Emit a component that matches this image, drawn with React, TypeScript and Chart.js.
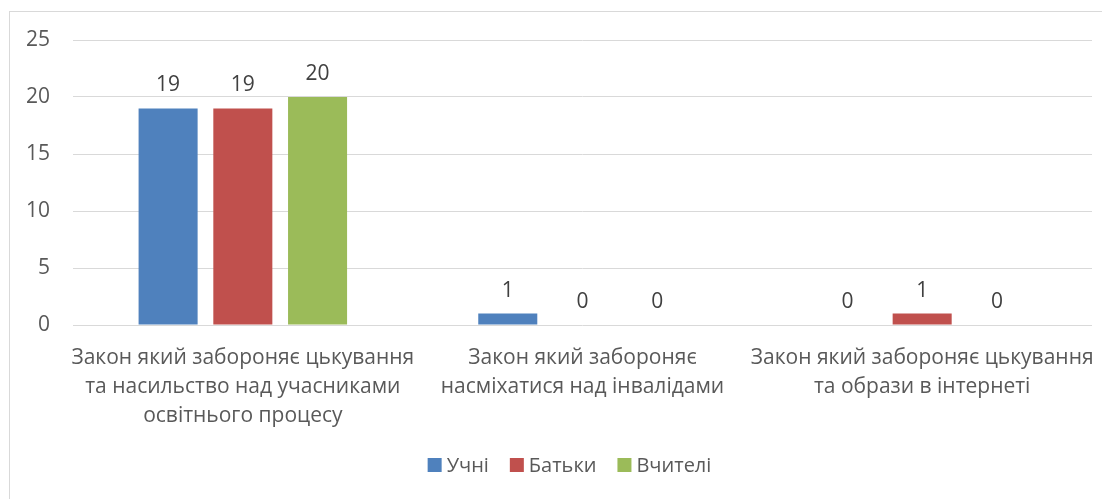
import React, { useEffect, useRef } from "react";
import { Chart, registerables } from "chart.js";

Chart.register(...registerables);

const categories: string[][] = [
  ["Закон який забороняє цькування", "та насильство над учасниками", "освітнього процесу"],
  ["Закон який забороняє", "насміхатися над інвалідами"],
  ["Закон який забороняє цькування", "та образи в інтернеті"],
];
const seriesNames = ["Учні", "Батьки", "Вчителі"];
const pupils = [19, 1, 0];
const parents = [19, 0, 1];
const teachers = [20, 0, 0];
const seriesColors = ["#4F81BD", "#C0504D", "#9BBB59"];
const yTicks = [0, 5, 10, 15, 20, 25];

const FONT = "'Open Sans', 'Noto Sans', sans-serif";
const FS = 21;

const dataLabels = {
  id: "dataLabels",
  afterDatasetsDraw(chart: any) {
    const ctx = chart.ctx;
    ctx.save();
    ctx.font = `${FS}px ${FONT}`;
    ctx.fillStyle = "#404040";
    ctx.textAlign = "center";
    ctx.textBaseline = "middle";
    chart.data.datasets.forEach((ds: any, i: number) => {
      const meta = chart.getDatasetMeta(i);
      meta.data.forEach((el: any, j: number) => {
        ctx.fillText(String(ds.data[j]), el.x, el.y - 23);
      });
    });
    ctx.restore();
  },
};

// custom legend drawn at the bottom, centred like the original
const bottomLegend = {
  id: "bottomLegend",
  afterDraw(chart: any) {
    const ctx = chart.ctx;
    ctx.save();
    ctx.font = `20px ${FONT}`;
    ctx.textBaseline = "middle";
    const box = 14;
    const gap = 5;
    const itemGap = 21;
    const items = chart.data.datasets.map((ds: any) => ({
      text: ds.label,
      color: ds.backgroundColor,
      w: box + gap + ctx.measureText(ds.label).width,
    }));
    const total = items.reduce((a: number, it: any) => a + it.w, 0) + itemGap * (items.length - 1);
    let x = 559.5 - total / 2;
    const y = 453;
    items.forEach((it: any) => {
      ctx.fillStyle = it.color;
      ctx.fillRect(x, y - box / 2, box, box);
      ctx.fillStyle = "#595959";
      ctx.textAlign = "left";
      ctx.fillText(it.text, x + box + gap, y + 1);
      x += it.w + itemGap;
    });
    ctx.restore();
  },
};

export default function App() {
  const ref = useRef<HTMLCanvasElement>(null);
  useEffect(() => {
    if (!ref.current) return;
    const chart = new Chart(ref.current, {
      type: "bar",
      data: {
        labels: categories,
        datasets: [pupils, parents, teachers].map((d, i) => ({
          label: seriesNames[i],
          data: d,
          backgroundColor: seriesColors[i],
          borderWidth: 0,
          barPercentage: 0.79,
          categoryPercentage: 0.66,
        })),
      },
      options: {
        animation: false,
        responsive: false,
        maintainAspectRatio: false,
        layout: { padding: { top: 28, right: 18, left: 0, bottom: 54 } },
        plugins: {
          tooltip: { enabled: false },
          legend: { display: false },
        },
        scales: {
          x: {
            grid: { display: false },
            border: { display: false },
            afterFit: (s: any) => {
              s.height = 120;
            },
            ticks: {
              color: "#595959",
              font: { family: FONT, size: FS, lineHeight: 1.4 },
              maxRotation: 0,
              autoSkip: false,
              padding: 10,
            },
          },
          y: {
            min: 0,
            max: 25,
            afterFit: (s: any) => {
              s.width = 63;
              s.paddingTop = 0;
              s.paddingBottom = 0;
            },
            afterBuildTicks: (s: any) => {
              s.ticks = yTicks.map((v) => ({ value: v }));
            },
            grid: { color: "#d9d9d9", lineWidth: 1, drawTicks: false },
            border: { display: false },
            ticks: {
              color: "#595959",
              font: { family: FONT, size: FS },
              padding: 23,
            },
          },
        },
      },
      plugins: [dataLabels, bottomLegend],
    });
    return () => chart.destroy();
  }, []);
  return (
    <div
      style={{
        marginLeft: 1,
        marginTop: 3,
        width: 1101,
        height: 488,
        borderTop: "1px solid #d9d9d9",
        borderLeft: "1px solid #d9d9d9",
        boxSizing: "border-box",
        overflow: "hidden",
      }}
    >
      <canvas ref={ref} width={1100} height={487} style={{ display: "block" }} />
    </div>
  );
}
